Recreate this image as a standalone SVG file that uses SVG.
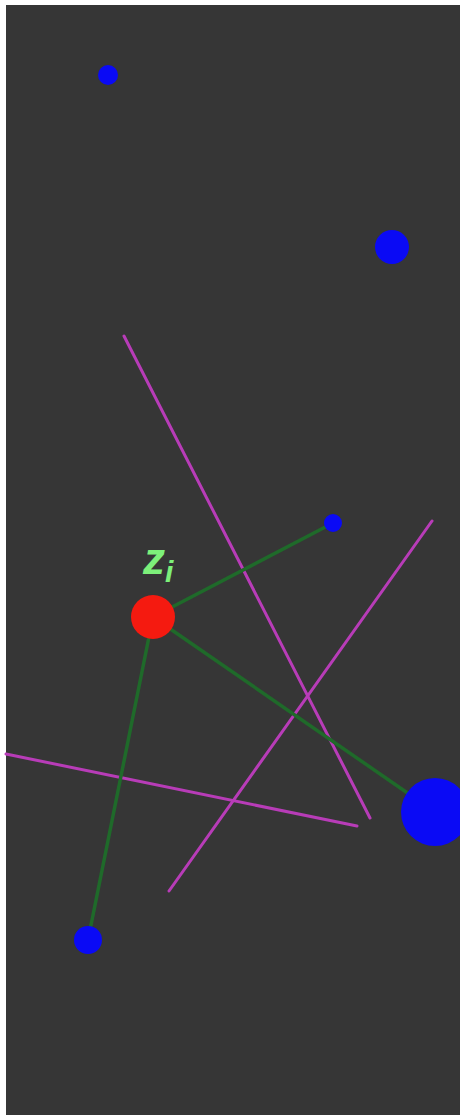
<svg xmlns="http://www.w3.org/2000/svg" width="462" height="1116" viewBox="0 0 462 1116">
<style>
.mag{stroke:#b83cb8;stroke-width:3;stroke-linecap:round;fill:none}
.grn{stroke:#1f6a2a;stroke-width:3.5;fill:none}
.blue{fill:#0a0af5}
.red{fill:#f51a10}
.lbl{font-family:"Liberation Sans",Arial,sans-serif;font-weight:bold;font-style:italic;fill:#7df07a}
</style>
<rect x="0" y="0" width="462" height="1116" fill="#ffffff"/>
<rect x="6" y="5" width="454" height="1110" fill="#363636"/>
<g id="segments">
<line class="mag" x1="124" y1="336" x2="370" y2="818"/>
<line class="mag" x1="432" y1="521" x2="169" y2="891"/>
<line class="mag" x1="6" y1="754" x2="357" y2="826"/>
</g>
<g id="connectors">
<line class="grn" x1="153" y1="617" x2="333" y2="523"/>
<line class="grn" x1="153" y1="617" x2="435" y2="812"/>
<line class="grn" x1="153" y1="617" x2="88" y2="940"/>
</g>
<g id="n1"><circle class="blue" cx="108" cy="75" r="10"/></g>
<g id="n2"><circle class="blue" cx="392" cy="247" r="17"/></g>
<g id="n3"><circle class="blue" cx="333" cy="523" r="9"/></g>
<g id="n4"><circle class="blue" cx="435" cy="812" r="34"/></g>
<g id="n5"><circle class="blue" cx="88" cy="940" r="14"/></g>
<g id="zi"><circle class="red" cx="153" cy="617" r="22"/>
<text class="lbl" x="143" y="574" font-size="44">z<tspan font-size="30" dy="8">i</tspan></text></g>
<rect x="460" y="0" width="2" height="1116" fill="#ffffff"/>
</svg>
